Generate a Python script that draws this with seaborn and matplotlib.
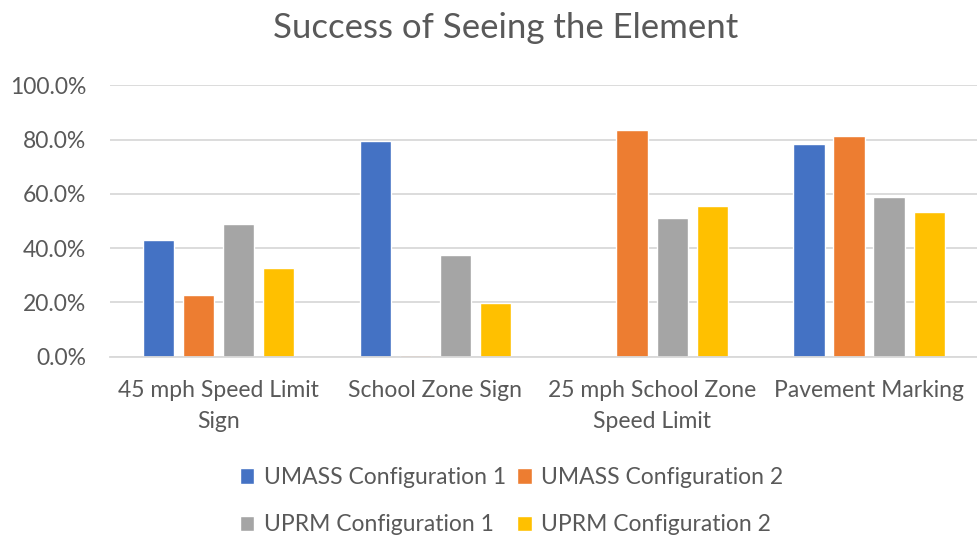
import pandas as pd
import numpy as np
import matplotlib.pyplot as plt
from matplotlib.ticker import PercentFormatter
import seaborn as sns

# ── Data ──────────────────────────────────────────────────────────────────────
categories = ['45 mph Speed Limit\nSign', 'School Zone Sign',
              '25 mph School Zone\nSpeed Limit', 'Pavement Marking']
series = ['UMASS Configuration 1', 'UMASS Configuration 2',
          'UPRM Configuration 1', 'UPRM Configuration 2']
umass_1 = [0.430, 0.795, 0.000, 0.784]
umass_2 = [0.229, 0.005, 0.835, 0.814]
uprm_1  = [0.489, 0.374, 0.513, 0.590]
uprm_2  = [0.326, 0.199, 0.556, 0.535]

COLORS = ['#4472C4', '#ED7D31', '#A5A5A5', '#FFC000']
TEXT = '#595959'
GRID = '#D9D9D9'

df = pd.DataFrame({
    'category': categories * 4,
    'series': np.repeat(series, 4),
    'value': umass_1 + umass_2 + uprm_1 + uprm_2,
})

# ── Plot ──────────────────────────────────────────────────────────────────────
sns.set_theme(style='white')
plt.rcParams['font.family'] = ['Lato', 'DejaVu Sans']

fig = plt.figure(figsize=(9.78, 5.35), dpi=100)
ax = fig.add_axes([0.1125, 0.3333, 0.887, 0.507])

sns.barplot(data=df, x='category', y='value', hue='series', order=categories,
            hue_order=series, palette=COLORS, width=0.74, gap=0.22,
            saturation=1, ax=ax, legend=True)

ax.set_ylim(0, 1)
ax.set_yticks(np.arange(0, 1.01, 0.2))
ax.yaxis.set_major_formatter(PercentFormatter(xmax=1, decimals=1))
ax.grid(axis='y', color=GRID, linewidth=1.3)
ax.set_axisbelow(True)
for s in ['top', 'right', 'left']:
    ax.spines[s].set_visible(False)
ax.spines['bottom'].set_color(GRID)
ax.spines['bottom'].set_linewidth(1.3)
ax.tick_params(axis='both', length=0, labelsize=16.5, colors=TEXT)
ax.tick_params(axis='y', pad=17)
ax.tick_params(axis='x', pad=17)
for lbl in ax.get_xticklabels():
    lbl.set_linespacing(1.6)
ax.set_xlabel('')
ax.set_ylabel('')

fig.suptitle('Success of Seeing the Element', x=0.517, y=0.947, va='center',
             fontsize=25, color=TEXT)

handles, labels = ax.get_legend_handles_labels()
ax.get_legend().remove()
order = [0, 2, 1, 3]
fig.legend([handles[i] for i in order], [labels[i] for i in order],
           loc='center', bbox_to_anchor=(0.523, 0.063), ncol=2, frameon=False,
           fontsize=16.5, labelcolor=TEXT, handlelength=0.65, handleheight=0.65,
           handletextpad=0.4, columnspacing=0.5, labelspacing=1.15)

plt.savefig('out.png', dpi=100)
